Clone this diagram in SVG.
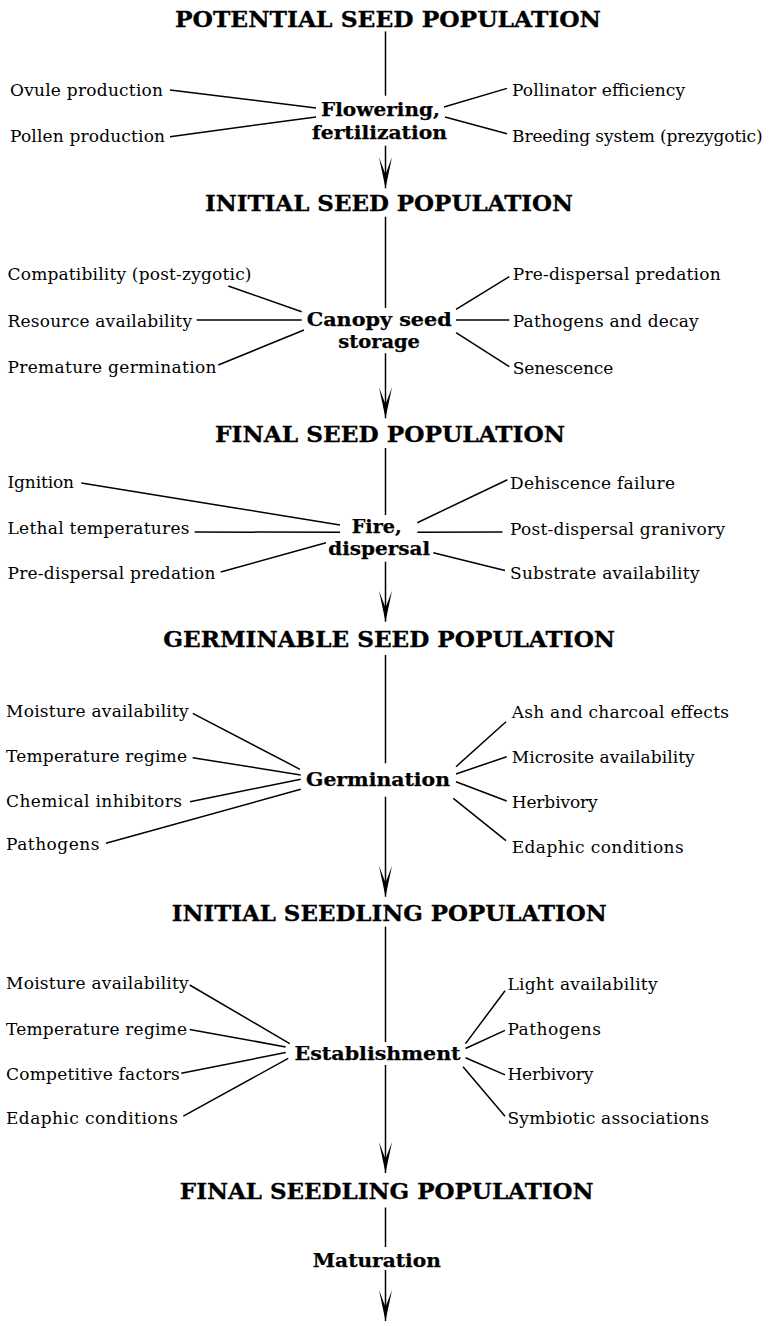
<svg xmlns="http://www.w3.org/2000/svg" width="774" height="1326" viewBox="0 0 774 1326">
<style>
.t{font-family:"DejaVu Serif","Liberation Serif",serif;font-weight:bold;font-size:22px;fill:#000;stroke:#000;stroke-width:0.3}
.s{font-family:"DejaVu Serif","Liberation Serif",serif;font-weight:bold;font-size:19px;fill:#000;stroke:#000;stroke-width:0.25}
.f{font-family:"DejaVu Serif","Liberation Serif",serif;font-size:17px;fill:#000}
.c line{stroke:#000;stroke-width:1.5;fill:none}
</style>
<defs>
<marker id="ah" viewBox="-32 -8 33 16" markerWidth="33" markerHeight="16" refX="0" refY="0" orient="auto" markerUnits="userSpaceOnUse">
<path d="M0,0 L-31,-6.5 L-14,0 L-31,6.5 Z" fill="#000"/>
</marker>
</defs>
<rect width="774" height="1326" fill="#fff"/>

<g id="connectors" class="c">
<line x1="385.5" y1="31.4" x2="385.5" y2="95.7"/>
<line x1="385.5" y1="145.7" x2="385.5" y2="188.3" marker-end="url(#ah)"/>
<line x1="385.5" y1="216.7" x2="385.5" y2="308"/>
<line x1="385.5" y1="353.3" x2="385.5" y2="418.3" marker-end="url(#ah)"/>
<line x1="385.5" y1="448" x2="385.5" y2="515"/>
<line x1="385.5" y1="561.7" x2="385.5" y2="621.7" marker-end="url(#ah)"/>
<line x1="385.5" y1="655" x2="385.5" y2="763.3"/>
<line x1="385.5" y1="796.7" x2="385.5" y2="896.7" marker-end="url(#ah)"/>
<line x1="385.5" y1="926.7" x2="385.5" y2="1042"/>
<line x1="385.5" y1="1065" x2="385.5" y2="1173" marker-end="url(#ah)"/>
<line x1="385.5" y1="1207.5" x2="385.5" y2="1247"/>
<line x1="385.5" y1="1270" x2="385.5" y2="1321" marker-end="url(#ah)"/>

<line x1="170" y1="90" x2="316" y2="108"/>
<line x1="170" y1="136.7" x2="316" y2="117"/>
<line x1="444" y1="107" x2="507" y2="88.4"/>
<line x1="445" y1="117" x2="507" y2="133.7"/>

<line x1="228.3" y1="286" x2="301.7" y2="311.7"/>
<line x1="196.7" y1="320" x2="301.7" y2="320"/>
<line x1="218.3" y1="365" x2="304" y2="330"/>
<line x1="456" y1="309.3" x2="509.3" y2="276.7"/>
<line x1="456" y1="320" x2="509.3" y2="320"/>
<line x1="456" y1="332.7" x2="509.3" y2="366.7"/>

<line x1="81.3" y1="483" x2="340" y2="525"/>
<line x1="194.6" y1="532" x2="340" y2="532.3"/>
<line x1="220.7" y1="572" x2="326" y2="542.7"/>
<line x1="417.3" y1="522.7" x2="507.4" y2="479.7"/>
<line x1="417.3" y1="532.3" x2="502.5" y2="532"/>
<line x1="433.3" y1="552.7" x2="505" y2="570.5"/>

<line x1="192.7" y1="713.3" x2="300" y2="769.3"/>
<line x1="192.7" y1="757.7" x2="300.7" y2="775"/>
<line x1="190" y1="801.7" x2="300.7" y2="779.3"/>
<line x1="106" y1="843.3" x2="300.7" y2="789.3"/>
<line x1="456" y1="766.7" x2="506" y2="721.7"/>
<line x1="456" y1="774" x2="506.7" y2="756.7"/>
<line x1="456" y1="781.7" x2="506.7" y2="801"/>
<line x1="453.3" y1="798.3" x2="506" y2="840.7"/>

<line x1="189.7" y1="985" x2="289.7" y2="1043.6"/>
<line x1="189.7" y1="1029.4" x2="285.7" y2="1046.9"/>
<line x1="181.3" y1="1073.3" x2="285.7" y2="1052.5"/>
<line x1="183.3" y1="1116.2" x2="288.2" y2="1058.4"/>
<line x1="505" y1="990.8" x2="465.5" y2="1043.6"/>
<line x1="505" y1="1030.4" x2="465.5" y2="1048.5"/>
<line x1="465.5" y1="1057.8" x2="505" y2="1074.9"/>
<line x1="463" y1="1066.7" x2="505" y2="1116.2"/>
</g>

<g id="n-potential"><text class="t" x="175" y="26.5" textLength="426" lengthAdjust="spacingAndGlyphs">POTENTIAL SEED POPULATION</text></g>
<g id="n-flowering"><text class="s" x="321" y="116" textLength="119" lengthAdjust="spacingAndGlyphs">Flowering,</text><text class="s" x="312" y="139.3" textLength="135" lengthAdjust="spacingAndGlyphs">fertilization</text></g>
<g id="n-ovule"><text class="f" x="10" y="95.7" textLength="153">Ovule production</text></g>
<g id="n-pollen"><text class="f" x="10" y="141.5" textLength="155">Pollen production</text></g>
<g id="n-pollinator"><text class="f" x="512" y="95.7" textLength="173">Pollinator efficiency</text></g>
<g id="n-breeding"><text class="f" x="512" y="141.5" textLength="250.6">Breeding system (prezygotic)</text></g>

<g id="n-initial-seed"><text class="t" x="205" y="211" textLength="368" lengthAdjust="spacingAndGlyphs">INITIAL SEED POPULATION</text></g>
<g id="n-canopy"><text class="s" x="306.7" y="325.8" textLength="145" lengthAdjust="spacingAndGlyphs">Canopy seed</text><text class="s" x="338.3" y="348.3" textLength="81.7" lengthAdjust="spacingAndGlyphs">storage</text></g>
<g id="n-compat"><text class="f" x="7.5" y="280" textLength="244">Compatibility (post-zygotic)</text></g>
<g id="n-resource"><text class="f" x="7.5" y="326.7" textLength="184.5">Resource availability</text></g>
<g id="n-premature"><text class="f" x="7.5" y="372.7" textLength="209">Premature germination</text></g>
<g id="n-predisp1"><text class="f" x="512.7" y="280" textLength="208">Pre-dispersal predation</text></g>
<g id="n-pathdecay"><text class="f" x="512.7" y="326.7" textLength="186">Pathogens and decay</text></g>
<g id="n-senescence"><text class="f" x="512.7" y="374" textLength="100.5">Senescence</text></g>

<g id="n-final-seed"><text class="t" x="215" y="441.7" textLength="350" lengthAdjust="spacingAndGlyphs">FINAL SEED POPULATION</text></g>
<g id="n-fire"><text class="s" x="351.7" y="533" textLength="50" lengthAdjust="spacingAndGlyphs">Fire,</text><text class="s" x="328.3" y="555.3" textLength="101.7" lengthAdjust="spacingAndGlyphs">dispersal</text></g>
<g id="n-ignition"><text class="f" x="7.5" y="488" textLength="66.5">Ignition</text></g>
<g id="n-lethal"><text class="f" x="7.5" y="534.2" textLength="182">Lethal temperatures</text></g>
<g id="n-predisp2"><text class="f" x="7.5" y="578.7" textLength="208">Pre-dispersal predation</text></g>
<g id="n-dehiscence"><text class="f" x="510" y="489" textLength="165">Dehiscence failure</text></g>
<g id="n-postdisp"><text class="f" x="510" y="535" textLength="215">Post-dispersal granivory</text></g>
<g id="n-substrate"><text class="f" x="510" y="579.4" textLength="189.5">Substrate availability</text></g>

<g id="n-germinable"><text class="t" x="163.3" y="647.3" textLength="451.7" lengthAdjust="spacingAndGlyphs">GERMINABLE SEED POPULATION</text></g>
<g id="n-germination"><text class="s" x="306" y="786" textLength="144" lengthAdjust="spacingAndGlyphs">Germination</text></g>
<g id="n-moist1"><text class="f" x="6" y="716.5" textLength="182.7">Moisture availability</text></g>
<g id="n-temp1"><text class="f" x="6" y="761.7" textLength="181">Temperature regime</text></g>
<g id="n-chem"><text class="f" x="6" y="806.7" textLength="176">Chemical inhibitors</text></g>
<g id="n-path1"><text class="f" x="6" y="850" textLength="93.5">Pathogens</text></g>
<g id="n-ash"><text class="f" x="511.7" y="718.3" textLength="217.3">Ash and charcoal effects</text></g>
<g id="n-microsite"><text class="f" x="511.7" y="763.3" textLength="183">Microsite availability</text></g>
<g id="n-herb1"><text class="f" x="511.7" y="808.3" textLength="86">Herbivory</text></g>
<g id="n-edaph1"><text class="f" x="511.7" y="853.3" textLength="172">Edaphic conditions</text></g>

<g id="n-initial-seedling"><text class="t" x="171.7" y="921" textLength="435" lengthAdjust="spacingAndGlyphs">INITIAL SEEDLING POPULATION</text></g>
<g id="n-establishment"><text class="s" x="294.6" y="1060" textLength="166" lengthAdjust="spacingAndGlyphs">Establishment</text></g>
<g id="n-moist2"><text class="f" x="6" y="989" textLength="182.7">Moisture availability</text></g>
<g id="n-temp2"><text class="f" x="6" y="1035.3" textLength="181">Temperature regime</text></g>
<g id="n-compet"><text class="f" x="6" y="1080" textLength="173.8">Competitive factors</text></g>
<g id="n-edaph2"><text class="f" x="6" y="1124.4" textLength="172">Edaphic conditions</text></g>
<g id="n-light"><text class="f" x="507.4" y="989.8" textLength="150.2">Light availability</text></g>
<g id="n-path2"><text class="f" x="507.4" y="1035.3" textLength="93.5">Pathogens</text></g>
<g id="n-herb2"><text class="f" x="507.4" y="1080" textLength="86">Herbivory</text></g>
<g id="n-symb"><text class="f" x="507.4" y="1124.4" textLength="201.6">Symbiotic associations</text></g>

<g id="n-final-seedling"><text class="t" x="179.8" y="1199.2" textLength="413.8" lengthAdjust="spacingAndGlyphs">FINAL SEEDLING POPULATION</text></g>
<g id="n-maturation"><text class="s" x="312.8" y="1267" textLength="128" lengthAdjust="spacingAndGlyphs">Maturation</text></g>
</svg>
